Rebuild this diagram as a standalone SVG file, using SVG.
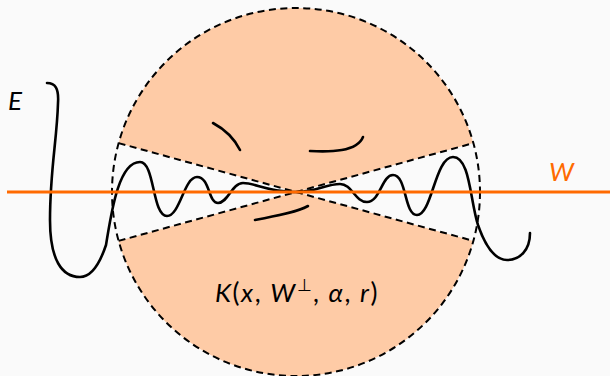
<svg xmlns="http://www.w3.org/2000/svg" width="610" height="376" viewBox="0 0 610 376">
<style>
.fill{fill:#FECBA6;stroke:none}
.dash{fill:none;stroke:#000;stroke-width:2;stroke-dasharray:7 4.5}
.curve{fill:none;stroke:#000;stroke-width:2.6;stroke-linecap:round;stroke-linejoin:round}
.w{stroke:#FF6A00;stroke-width:3;fill:none}
.lbl{font-family:"Lato","Open Sans",sans-serif;font-weight:400;font-style:italic;font-size:26px}
.up{font-style:normal}
</style>
<rect width="610" height="376" fill="#FAFAFA"/>
<g id="cone">
<path class="fill" d="M296,192 L118.6,143.1 A184,184 0 0 1 473.4,143.1 Z"/>
<path class="fill" d="M296,192 L473.4,240.9 A184,184 0 0 1 118.6,240.9 Z"/>
<circle class="dash" cx="296" cy="192" r="184"/>
<path class="dash" d="M118.6,143.1 L296,192 L473.4,240.9"/>
<path class="dash" d="M118.6,240.9 L296,192 L473.4,143.1"/>
</g>
<g id="E">
<path class="curve" d="M47,83 C55,83 59,88 58,103 C57,140 50,170 50,220 C50,260 62,277 80,277 C92,277 100,263 106,245 C111,215 118,162 140,162 C155,162 152,216 167,216 C180,216 184,177 197,177 C210,177 208,203 218,203 C228,203 232,183 243,183 C255,183 265,191 293,192 C315,193 325,184 340,184 C352,184 355,202 367,202 C380,202 382,175 393,175 C407,175 404,215 417,215 C432,215 435,157 453,157 C470,157 470,200 478,225 C486,248 495,260 507,260 C520,260 530,250 530,233"/>
<path class="curve" d="M213,123 C226,130 235,140 240,150"/>
<path class="curve" d="M310,151 C330,152 357,152 363,137"/>
<path class="curve" d="M255,220 C275,216 295,213 308,206"/>
</g>
<g id="W">
<line class="w" x1="7" y1="192" x2="610" y2="192"/>
</g>
<g id="labels">
<text class="lbl" x="8" y="110">E</text>
<text class="lbl" x="549" y="181" fill="#FF6A00">W</text>
<text class="lbl" x="297" y="302" text-anchor="middle" font-size="26" letter-spacing="1.5">K<tspan class="up">(</tspan>x<tspan class="up">, </tspan>W<tspan class="up" font-size="17" dy="-11">⊥</tspan><tspan class="up" dy="11">, </tspan>α<tspan class="up">, </tspan>r<tspan class="up">)</tspan></text>
</g>
</svg>
